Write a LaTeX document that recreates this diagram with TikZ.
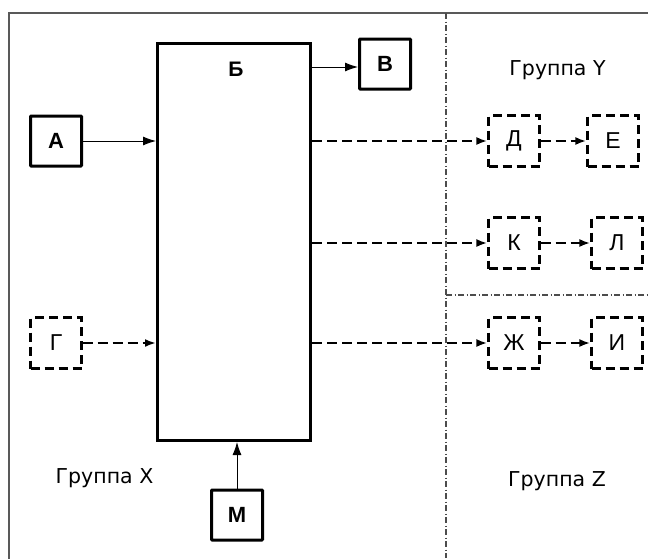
\documentclass[tikz,border=0pt]{standalone}
\usepackage{fontspec}
\setmainfont{Liberation Sans}
\newfontfamily\grpfont{DejaVu Sans}
\usetikzlibrary{arrows.meta}
\begin{document}
\begin{tikzpicture}[x=1pt,y=-1pt,
  grp/.style={anchor=base,inner sep=0pt,font=\grpfont\fontsize{20.5}{23}\selectfont},
  solidbox/.style={draw,line width=3pt,minimum width=51pt,minimum height=50pt,inner sep=0pt,rounded corners=0.8pt,font=\fontsize{22}{24}\selectfont\bfseries},
  dashbox/.style={draw,line width=2.2pt,dash pattern=on 9pt off 5pt,minimum width=51pt,minimum height=51pt,inner sep=0pt,font=\fontsize{23}{25}\selectfont},
  arr/.style={line width=0.9pt,-{Latex[length=13pt,width=9pt]}},
  darr/.style={line width=2.2pt,dash pattern=on 10pt off 5pt,-{Latex[length=11pt,width=8pt]}},
  sep/.style={draw=black!70,line width=1.2pt,dash pattern=on 6pt off 2.5pt on 1pt off 2.5pt},
  frame/.style={draw=black!65,line width=1.5pt}]
\useasboundingbox (0,0) rectangle (648,558);
\draw[frame] (9,570) -- (9,13) -- (660,13);
\draw[sep] (446,13) -- (446,558);
\draw[sep] (446,295) -- (648,295);
\node[draw,line width=3pt,minimum width=153pt,minimum height=397pt,inner sep=0pt] (B) at (234,242) {};
\node[anchor=base,inner sep=0pt,font=\fontsize{21}{23}\selectfont\bfseries] (Blabel) at (236,76) {Б};
\node[solidbox] (A) at (56,141) {А};
\node[solidbox] (V) at (385,64) {В};
\node[solidbox] (M) at (237,515) {М};
\node[dashbox] (G) at (56,343) {Г};
\node[dashbox] (D) at (514,141) {Д};
\node[dashbox] (E) at (613,141) {Е};
\node[dashbox] (K) at (514,243) {К};
\node[dashbox] (L) at (617,243) {Л};
\node[dashbox] (Zh) at (514,343) {Ж};
\node[dashbox] (I) at (617,343) {И};
\node[grp] (gx) at (104.5,483) {Группа X};
\node[grp] (gy) at (557.5,75) {Группа Y};
\node[grp] (gz) at (557,486) {Группа Z};
\draw[arr] (A.east) -- (A.east -| B.west);
\draw[arr] ([yshift=-3pt]V.west -| B.east) -- ([yshift=-3pt]V.west);
\draw[arr] (M.north) -- (M.north |- B.south);
\draw[darr] (G.east) -- (G.east -| B.west);
\draw[darr] (D.west -| B.east) -- (D.west);
\draw[darr] (K.west -| B.east) -- (K.west);
\draw[darr] (Zh.west -| B.east) -- (Zh.west);
\draw[darr] (D.east) -- (E.west);
\draw[darr] (K.east) -- (L.west);
\draw[darr] (Zh.east) -- (I.west);
\end{tikzpicture}
\end{document}
